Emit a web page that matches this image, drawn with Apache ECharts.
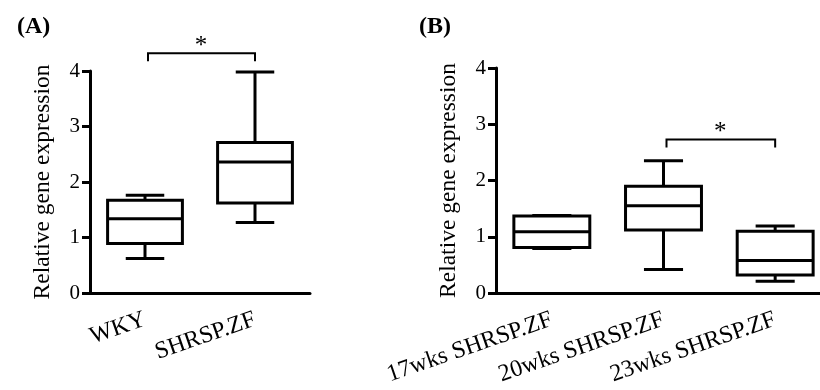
<!DOCTYPE html>
<html>
<head>
<meta charset="utf-8">
<script src="https://cdn.jsdelivr.net/npm/echarts@6/dist/echarts.min.js"></script>
<style>
  html, body { margin: 0; padding: 0; background: #fff; }
  #chart { width: 820px; height: 390px; }
</style>
</head>
<body>
<div id="chart"></div>
<script>
// values: [min, Q1, median, Q3, max]
const catsA = ['WKY', 'SHRSP.ZF'];
const wky = [0.62, 0.89, 1.34, 1.67, 1.76];
const shrspA = [1.27, 1.62, 2.36, 2.71, 3.98];

const catsB = ['17wks SHRSP.ZF', '20wks SHRSP.ZF', '23wks SHRSP.ZF'];
const wk17 = [0.79, 0.81, 1.09, 1.37, 1.38];
const wk20 = [0.42, 1.12, 1.55, 1.90, 2.35];
const wk23 = [0.21, 0.32, 0.58, 1.10, 1.19];

const yTicks = [0, 1, 2, 3, 4];

// significance brackets: [from category, to category, height]
const sigA = [[0, 1, 4.32]];
const sigB = [[1, 2, 2.73]];

const FONT = "'Liberation Serif', 'Times New Roman', serif";
const INK = '#000';

function boxItem(params, api) {
    const x = api.value(0);
    const lo = api.coord([x, api.value(1)]);
    const q1 = api.coord([x, api.value(2)]);
    const md = api.coord([x, api.value(3)]);
    const q3 = api.coord([x, api.value(4)]);
    const hi = api.coord([x, api.value(5)]);
    const band = api.size([1, 0])[0];
    const bw = band * 0.68;
    const cw = band * 0.35;
    const cx = md[0];
    const st = { stroke: INK, lineWidth: 3, fill: null, lineCap: 'butt' };
    return {
        type: 'group',
        children: [
            { type: 'line', shape: { x1: cx, y1: hi[1], x2: cx, y2: q3[1] }, style: st },
            { type: 'line', shape: { x1: cx, y1: q1[1], x2: cx, y2: lo[1] }, style: st },
            { type: 'line', shape: { x1: cx - cw / 2, y1: hi[1], x2: cx + cw / 2, y2: hi[1] }, style: st },
            { type: 'line', shape: { x1: cx - cw / 2, y1: lo[1], x2: cx + cw / 2, y2: lo[1] }, style: st },
            { type: 'rect', shape: { x: cx - bw / 2, y: q3[1], width: bw, height: q1[1] - q3[1] },
              style: { stroke: INK, lineWidth: 3, fill: '#fff' } },
            { type: 'line', shape: { x1: cx - bw / 2, y1: md[1], x2: cx + bw / 2, y2: md[1] }, style: st }
        ]
    };
}

function bracketItem(params, api) {
    const a = api.coord([api.value(0), api.value(2)]);
    const b = api.coord([api.value(1), api.value(2)]);
    const st = { stroke: INK, lineWidth: 2, fill: null };
    const drop = 8;
    return {
        type: 'group',
        children: [
            { type: 'polyline', shape: { points: [[a[0] + 3, a[1] + drop], [a[0] + 3, a[1]], [b[0], b[1]], [b[0], b[1] + drop]] }, style: st },
            { type: 'text', x: (a[0] + b[0]) / 2 + 1, y: a[1] - 7,
              style: { text: '*', fill: INK, font: '25px ' + FONT, align: 'center', verticalAlign: 'middle' } }
        ]
    };
}

function rows(list) {
    return list.map((v, i) => [i].concat(v));
}

function xAxis(idx, cats) {
    return {
        type: 'category', gridIndex: idx, data: cats,
        axisLine: { lineStyle: { color: INK, width: 3 } },
        axisTick: { alignWithLabel: true, length: 7, lineStyle: { color: INK, width: 3 } },
        axisLabel: { rotate: 19, margin: 26, color: INK, fontSize: 24, fontFamily: FONT, interval: 0 },
        splitLine: { show: false }
    };
}

function yAxis(idx) {
    return {
        type: 'value', gridIndex: idx, min: yTicks[0], max: yTicks[yTicks.length - 1], interval: 1,
        name: 'Relative gene expression', nameLocation: 'middle', nameGap: 35, nameRotate: 90,
        nameTextStyle: { color: INK, fontSize: 23.5, fontFamily: FONT },
        axisLine: { show: true, lineStyle: { color: INK, width: 3 } },
        axisTick: { show: true, length: 8, lineStyle: { color: INK, width: 3 } },
        axisLabel: { margin: 10, color: INK, fontSize: 21, fontFamily: FONT },
        splitLine: { show: false }
    };
}

const option = {
    backgroundColor: '#fff',
    animation: false,
    title: [
        { text: '(A)', left: 12, top: 10, textStyle: { color: INK, fontSize: 24, fontWeight: 'bold', fontFamily: FONT } },
        { text: '(B)', left: 414, top: 10, textStyle: { color: INK, fontSize: 24, fontWeight: 'bold', fontFamily: FONT } }
    ],
    grid: [
        { left: 90, top: 71, width: 220, height: 222, outerBoundsMode: 'none', containLabel: false },
        { left: 496, top: 68, width: 335, height: 225, outerBoundsMode: 'none', containLabel: false }
    ],
    xAxis: [xAxis(0, catsA), xAxis(1, catsB)],
    yAxis: [yAxis(0), yAxis(1)],
    series: [
        { type: 'custom', xAxisIndex: 0, yAxisIndex: 0, renderItem: boxItem,
          encode: { x: 0, y: [1, 2, 3, 4, 5] }, data: rows([wky, shrspA]) },
        { type: 'custom', xAxisIndex: 1, yAxisIndex: 1, renderItem: boxItem,
          encode: { x: 0, y: [1, 2, 3, 4, 5] }, data: rows([wk17, wk20, wk23]) },
        { type: 'custom', xAxisIndex: 0, yAxisIndex: 0, renderItem: bracketItem, clip: false,
          encode: { x: [0, 1], y: 2 }, data: sigA },
        { type: 'custom', xAxisIndex: 1, yAxisIndex: 1, renderItem: bracketItem, clip: false,
          encode: { x: [0, 1], y: 2 }, data: sigB }
    ]
};

const chart = echarts.init(document.getElementById('chart'));
chart.setOption(option);
</script>
</body>
</html>
